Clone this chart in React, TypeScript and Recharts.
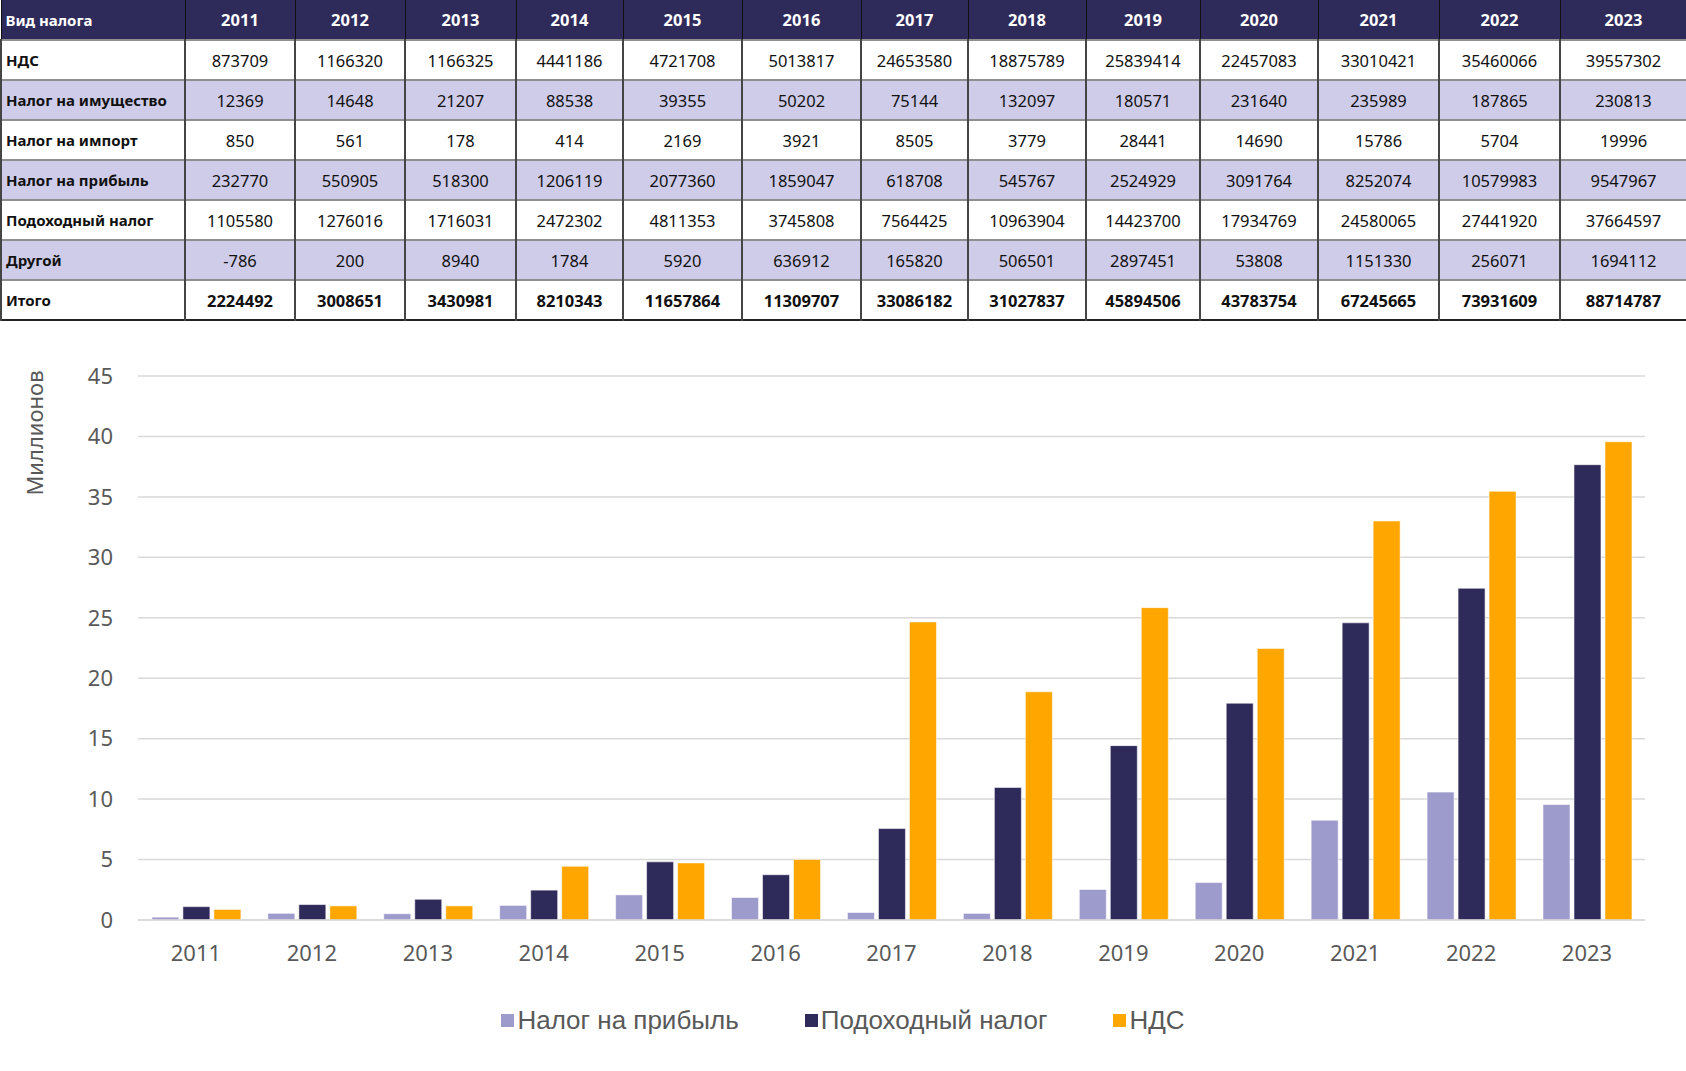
import React from 'react';
import { BarChart, Bar, XAxis, YAxis, CartesianGrid } from 'recharts';

const years = ['2011', '2012', '2013', '2014', '2015', '2016', '2017', '2018', '2019', '2020', '2021', '2022', '2023'];

const vat = [873709, 1166320, 1166325, 4441186, 4721708, 5013817, 24653580, 18875789, 25839414, 22457083, 33010421, 35460066, 39557302];
const propertyTax = [12369, 14648, 21207, 88538, 39355, 50202, 75144, 132097, 180571, 231640, 235989, 187865, 230813];
const importTax = [850, 561, 178, 414, 2169, 3921, 8505, 3779, 28441, 14690, 15786, 5704, 19996];
const profitTax = [232770, 550905, 518300, 1206119, 2077360, 1859047, 618708, 545767, 2524929, 3091764, 8252074, 10579983, 9547967];
const incomeTax = [1105580, 1276016, 1716031, 2472302, 4811353, 3745808, 7564425, 10963904, 14423700, 17934769, 24580065, 27441920, 37664597];
const otherTax = [-786, 200, 8940, 1784, 5920, 636912, 165820, 506501, 2897451, 53808, 1151330, 256071, 1694112];
const totalTax = [2224492, 3008651, 3430981, 8210343, 11657864, 11309707, 33086182, 31027837, 45894506, 43783754, 67245665, 73931609, 88714787];

const yTicks = [0, 5, 10, 15, 20, 25, 30, 35, 40, 45];

const tableRows = [
  { label: 'НДС', values: vat, shaded: false, bold: false },
  { label: 'Налог на имущество', values: propertyTax, shaded: true, bold: false },
  { label: 'Налог на импорт', values: importTax, shaded: false, bold: false },
  { label: 'Налог на прибыль', values: profitTax, shaded: true, bold: false },
  { label: 'Подоходный налог', values: incomeTax, shaded: false, bold: false },
  { label: 'Другой', values: otherTax, shaded: true, bold: false },
  { label: 'Итого', values: totalTax, shaded: false, bold: true },
];

const series = [
  { key: 'profit', name: 'Налог на прибыль', color: '#9d9acc', values: profitTax },
  { key: 'income', name: 'Подоходный налог', color: '#2e2a5a', values: incomeTax },
  { key: 'vat', name: 'НДС', color: '#ffa600', values: vat },
];

const chartData = years.map((y, i) => {
  const row: Record<string, any> = { year: y };
  series.forEach((s) => {
    row[s.key] = s.values[i] / 1e6;
  });
  return row;
});

const colWidths = [184, 110, 110, 111, 107, 119, 119, 107, 118, 114, 118, 121, 121, 127];

const NAVY = '#2e2a5a';
const LAVENDER = '#cfcce9';
const FONT = "'Noto Sans', 'DejaVu Sans', sans-serif";

export default function App() {
  const cellBase: React.CSSProperties = {
    height: 40,
    padding: 0,
    boxSizing: 'border-box',
    borderLeft: '2px solid #454545',
    borderRight: '2px solid #454545',
    borderTop: '2px solid #8f8f8f',
    textAlign: 'center',
    verticalAlign: 'middle',
    fontSize: 16.5,
    color: '#111',
    whiteSpace: 'nowrap',
    overflow: 'hidden',
  };
  return (
    <div style={{ position: 'absolute', left: 0, top: 0, width: 1686, height: 1071, background: '#fff', fontFamily: FONT, overflow: 'hidden' }}>
      <table style={{ position: 'absolute', left: 0, top: 0, width: 1686, borderCollapse: 'collapse', tableLayout: 'fixed', borderBottom: '2px solid #222' }}>
        <colgroup>
          {colWidths.map((w, i) => (
            <col key={i} style={{ width: w }} />
          ))}
        </colgroup>
        <thead>
          <tr>
            <th style={{ ...cellBase, background: NAVY, color: '#fff', fontWeight: 700, fontSize: 15, textAlign: 'left', paddingLeft: 4, borderLeft: '1px solid #111', borderRight: '1px solid #111', borderTop: 'none', height: 40 }}>Вид налога</th>
            {years.map((y) => (
              <th key={y} style={{ ...cellBase, background: NAVY, color: '#fff', fontWeight: 700, borderLeft: '1px solid #111', borderRight: '1px solid #111', borderTop: 'none', height: 40 }}>{y}</th>
            ))}
          </tr>
        </thead>
        <tbody>
          {tableRows.map((r) => (
            <tr key={r.label}>
              <td style={{ ...cellBase, background: r.shaded ? LAVENDER : '#fff', fontWeight: 700, fontSize: 15, textAlign: 'left', paddingLeft: 4 }}>{r.label}</td>
              {r.values.map((v, i) => (
                <td key={i} style={{ ...cellBase, background: r.shaded ? LAVENDER : '#fff', fontWeight: r.bold ? 700 : 400 }}>{v}</td>
              ))}
            </tr>
          ))}
        </tbody>
      </table>

      <div style={{ position: 'absolute', left: 0, top: 320, width: 1686, height: 751 }}>
        <BarChart width={1686} height={751} data={chartData} margin={{ top: 56, right: 41, left: 0, bottom: 121 }} barCategoryGap="12%" barGap={4}>
          <CartesianGrid vertical={false} stroke="#d9d9d9" strokeWidth={1.5} />
          <XAxis
            dataKey="year"
            height={30}
            axisLine={{ stroke: '#d9d9d9', strokeWidth: 1.5 }}
            tickLine={false}
            tickMargin={19}
            tick={{ fill: '#595959', fontSize: 22, fontFamily: FONT }}
            interval={0}
          />
          <YAxis
            width={138}
            domain={[0, 45]}
            ticks={yTicks}
            axisLine={false}
            tickLine={false}
            tickMargin={19}
            tick={{ fill: '#595959', fontSize: 22, fontFamily: FONT }}
          />
          {series.map((s) => (
            <Bar key={s.key} dataKey={s.key} name={s.name} fill={s.color} stroke="rgba(255,255,255,0.55)" strokeWidth={1} isAnimationActive={false} />
          ))}
        </BarChart>
      </div>

      <div style={{ position: 'absolute', left: 34, top: 433, transform: 'translate(-50%, -50%) rotate(-90deg)', whiteSpace: 'nowrap', fontSize: 22, color: '#595959', fontFamily: FONT }}>
        Миллионов
      </div>

      <div style={{ position: 'absolute', left: 0, top: 1004, width: 1686, height: 32, display: 'flex', justifyContent: 'center', alignItems: 'center', gap: 66, fontFamily: "'Liberation Sans', Arial, sans-serif", fontSize: 26, color: '#595959' }}>
        {series.map((s) => (
          <div key={s.key} style={{ display: 'flex', alignItems: 'center' }}>
            <span style={{ display: 'inline-block', width: 13, height: 13, background: s.color, marginRight: 3 }} />
            <span>{s.name}</span>
          </div>
        ))}
      </div>
    </div>
  );
}
